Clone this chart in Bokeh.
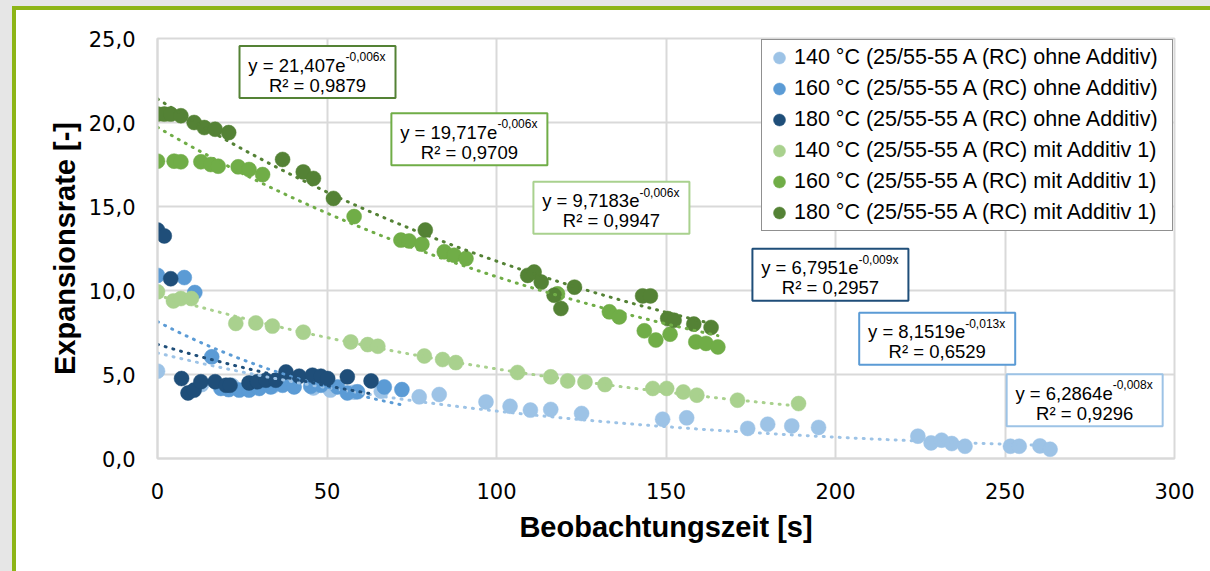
import numpy as np
from bokeh.plotting import figure
from bokeh.models import (Range1d, FixedTicker, CustomJSTickFormatter, Legend, LegendItem,
                          ColumnDataSource)
from bokeh.embed import file_html
from bokeh.resources import INLINE
from bokeh.core.properties import value

# ---------------- data ----------------
series_names = [
    "140 °C (25/55-55 A (RC) ohne Additiv)",
    "160 °C (25/55-55 A (RC) ohne Additiv)",
    "180 °C (25/55-55 A (RC) ohne Additiv)",
    "140 °C (25/55-55 A (RC) mit Additiv 1)",
    "160 °C (25/55-55 A (RC) mit Additiv 1)",
    "180 °C (25/55-55 A (RC) mit Additiv 1)",
]
colors = ["#9dc3e6", "#5b9bd5", "#1f4e79", "#a9d18e", "#70ad47", "#548235"]

x_140_ohne = [0, 13, 22, 28, 34, 40, 46, 51, 58, 66, 77.2, 83.1, 96.9, 104, 110, 116, 125.1,
              149, 156.1, 174.1, 180, 187.1, 195, 224.3, 228.2, 231.3, 234.3, 238.2, 251.6,
              254.2, 260.3, 263.3]
y_140_ohne = [5.2, 4.4, 4.35, 4.5, 4.3, 4.4, 4.2, 4.07, 3.95, 4.0, 3.67, 3.81, 3.37, 3.11, 2.88,
              2.92, 2.68, 2.34, 2.42, 1.79, 2.04, 1.94, 1.85, 1.33, 0.93, 1.09, 0.89, 0.73, 0.73,
              0.73, 0.75, 0.55]

x_160_ohne = [0, 7.9, 11, 16, 18.7, 21, 24.1, 27, 30, 33.4, 36.9, 40.3, 45.2, 48.2, 53.1, 56,
              59, 66.9, 72.1]
y_160_ohne = [10.9, 10.77, 9.88, 6.05, 4.17, 4.1, 4.07, 4.07, 4.17, 4.26, 4.36, 4.26, 4.3, 4.36,
              4.26, 3.9, 3.97, 4.26, 4.1]

x_180_ohne = [0, 2, 3.9, 7.1, 9, 10.8, 12.8, 17, 20.2, 21.4, 27, 29.5, 32, 34.9, 37.9, 41.8,
              45.7, 48.2, 50.2, 56, 63]
y_180_ohne = [13.6, 13.25, 10.7, 4.76, 3.9, 4.07, 4.57, 4.57, 4.36, 4.36, 4.5, 4.57, 4.66, 4.66,
              5.15, 4.9, 4.96, 4.9, 4.76, 4.86, 4.62]

x_140_mit = [0, 4.7, 6.9, 10, 23.1, 29, 33.9, 43, 57, 62, 65, 78.7, 84.1, 88, 106.2, 116, 121,
             126.1, 132, 146.1, 150.2, 155.1, 159.1, 171.1, 189.1]
y_140_mit = [9.92, 9.38, 9.52, 9.52, 8.04, 8.07, 7.88, 7.52, 6.94, 6.78, 6.68, 6.1, 5.89, 5.71,
             5.12, 4.86, 4.62, 4.56, 4.40, 4.17, 4.17, 3.96, 3.77, 3.47, 3.27]

x_160_mit = [0, 4.9, 6.9, 12.8, 15.7, 17.9, 23.8, 27, 31, 58, 71.8, 74.2, 78, 84.6, 87.5, 91,
             118, 133.3, 136.2, 143.6, 147, 151.2, 158.8, 161.8, 165.3]
y_160_mit = [17.7, 17.7, 17.66, 17.66, 17.5, 17.4, 17.36, 17.2, 16.9, 14.4, 13.0, 12.95, 12.76,
             12.3, 12.1, 11.9, 9.8, 8.73, 8.43, 7.6, 7.05, 7.4, 6.94, 6.85, 6.64]

x_180_mit = [0, 2, 3.9, 6.9, 10.8, 13.8, 17, 21, 36.9, 43, 46, 51.9, 79, 109.2, 111.1, 113.2,
             117, 119, 123, 143.1, 145.4, 150.5, 152.4, 158.2, 163.3]
y_180_mit = [20.5, 20.5, 20.5, 20.4, 20.0, 19.7, 19.6, 19.4, 17.8, 17.06, 16.67, 15.48, 13.6,
             10.9, 11.1, 10.5, 9.72, 8.93, 10.2, 9.68, 9.68, 8.33, 8.23, 8.0, 7.8]

xs_all = [x_140_ohne, x_160_ohne, x_180_ohne, x_140_mit, x_160_mit, x_180_mit]
ys_all = [y_140_ohne, y_160_ohne, y_180_ohne, y_140_mit, y_160_mit, y_180_mit]

# exponential trendlines as printed in the chart: y = a * e^(b x)
trend_a = [6.2864, 8.1519, 6.7951, 9.7183, 19.717, 21.407]
trend_b = [-0.008, -0.013, -0.009, -0.006, -0.006, -0.006]
eq_main = ["y = 6,2864e", "y = 8,1519e", "y = 6,7951e", "y = 9,7183e", "y = 19,717e", "y = 21,407e"]
eq_sup = ["-0,008x", "-0,013x", "-0,009x", "-0,006x", "-0,006x", "-0,006x"]
eq_r2 = ["R² = 0,9296", "R² = 0,6529", "R² = 0,2957", "R² = 0,9947", "R² = 0,9709", "R² = 0,9879"]

x_ticks = [0, 50, 100, 150, 200, 250, 300]
y_ticks = [0, 5, 10, 15, 20, 25]

# equation box anchor positions (layout)
box_x = [273.5, 230.0, 198.5, 133.9, 92.0, 47.2]
box_y = [3.47, 7.13, 10.94, 14.93, 19.0, 23.0]

# ---------------- figure ----------------
GREEN = "#8db516"
GREY = "#e6e6e6"
FONT = "Liberation Sans"

p = figure(width=1194, height=561, x_range=Range1d(0, 300), y_range=Range1d(0, 25),
           output_backend="svg", toolbar_location=None,
           min_border_left=141, min_border_right=36, min_border_top=28, min_border_bottom=113)
p.title.visible = False
p.margin = (10, 0, 0, 16)
p.styles = {"box-shadow": (f"-4px -4px 0 0 {GREEN}, 4px -4px 0 0 {GREEN}, -4px 4px 0 0 {GREEN}, "
                           f"-16px -10px 0 0 {GREY}, 16px -10px 0 0 {GREY}, -16px 10px 0 0 {GREY}")}
p.background_fill_color = "white"
p.border_fill_color = "white"
p.outline_line_color = "#d9d9d9"
p.outline_line_width = 2

for ax in (p.xaxis[0], p.yaxis[0]):
    ax.axis_line_color = "#d9d9d9"
    ax.axis_line_width = 2
    ax.major_tick_line_color = None
    ax.minor_tick_line_color = None
    ax.major_label_text_font = "DejaVu Sans"
    ax.major_label_text_font_size = "21px"
    ax.major_label_text_color = "black"
    ax.axis_label_text_font = FONT
    ax.axis_label_text_font_style = "bold"
    ax.axis_label_text_font_size = "29px"
    ax.axis_label_text_color = "black"

p.xaxis.ticker = FixedTicker(ticks=x_ticks)
p.yaxis.ticker = FixedTicker(ticks=y_ticks)
p.yaxis.formatter = CustomJSTickFormatter(code="return tick.toFixed(1).replace('.', ',');")
p.xaxis.axis_label = "Beobachtungszeit [s]"
p.yaxis.axis_label = "Expansionsrate [-]"
p.xaxis.major_label_standoff = 18
p.yaxis.major_label_standoff = 16
p.xaxis.axis_label_standoff = 9
p.yaxis.axis_label_standoff = 5

p.xgrid.ticker = FixedTicker(ticks=x_ticks)
p.ygrid.ticker = FixedTicker(ticks=y_ticks)
for g in (p.xgrid[0], p.ygrid[0]):
    g.grid_line_color = "#d9d9d9"
    g.grid_line_width = 2

# scatter points
renderers = []
for xs, ys, c in zip(xs_all, ys_all, colors):
    r = p.scatter(xs, ys, size=15, fill_color=c, line_color=c, line_width=0.5)
    renderers.append(r)

# trendlines
for xs, a, b, c in zip(xs_all, trend_a, trend_b, colors):
    tx = np.linspace(min(xs), max(xs), 300)
    ty = a * np.exp(b * tx)
    p.line(tx, ty, line_color=c, line_width=3, line_dash="1 7", line_cap="round")

# equation boxes
box_src = ColumnDataSource(dict(x=box_x, y=box_y, main=eq_main, sup=eq_sup, r2=eq_r2,
                                color=colors))
p.rect("x", "y", width=156, height=52, width_units="screen", height_units="screen",
       source=box_src, fill_color="white", line_color="color", line_width=2)
p.text("x", "y", text="main", x_offset=28, y_offset=-7, text_align="right",
       text_baseline="alphabetic", text_font=value(FONT), text_font_size="18.5px",
       text_color="black", source=box_src)
p.text("x", "y", text="sup", x_offset=28, y_offset=-15, text_align="left",
       text_baseline="alphabetic", text_font=value(FONT), text_font_size="12px",
       text_color="black", source=box_src)
p.text("x", "y", text="r2", x_offset=0, y_offset=13, text_align="center",
       text_baseline="alphabetic", text_font=value(FONT), text_font_size="18.5px",
       text_color="black", source=box_src)

legend = Legend(items=[LegendItem(label=n, renderers=[r]) for n, r in zip(series_names, renderers)],
                location="top_right", margin=1, padding=2, spacing=0,
                glyph_width=30, glyph_height=31, label_standoff=0, label_width=376,
                label_text_font=FONT, label_text_font_size="21.5px", label_text_color="black",
                border_line_color="#222222", border_line_width=1.5,
                background_fill_color="white", background_fill_alpha=1.0)
p.add_layout(legend)

open("out.html", "w").write(file_html(p, INLINE))
